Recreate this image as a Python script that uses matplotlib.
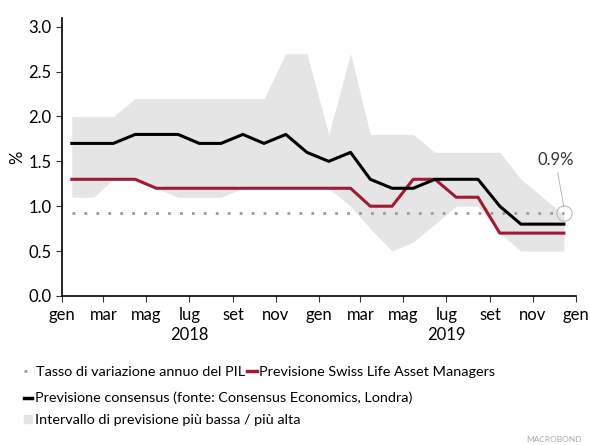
import datetime
import numpy as np
import matplotlib
matplotlib.use("Agg")
import matplotlib.pyplot as plt
from matplotlib.lines import Line2D
from matplotlib.patches import Patch

# monthly values, jan 2018 .. dec 2019
months = [datetime.date(2018 + i // 12, i % 12 + 1, 15) for i in range(24)]
consensus = [1.7, 1.7, 1.7, 1.8, 1.8, 1.8, 1.7, 1.7, 1.8, 1.7, 1.8, 1.6,
             1.5, 1.6, 1.3, 1.2, 1.2, 1.3, 1.3, 1.3, 1.0, 0.8, 0.8, 0.8]
swisslife = [1.3, 1.3, 1.3, 1.3, 1.2, 1.2, 1.2, 1.2, 1.2, 1.2, 1.2, 1.2,
             1.2, 1.2, 1.0, 1.0, 1.3, 1.3, 1.1, 1.1, 0.7, 0.7, 0.7, 0.7]
range_high = [2.0, 2.0, 2.0, 2.2, 2.2, 2.2, 2.2, 2.2, 2.2, 2.2, 2.7, 2.7,
              1.8, 2.7, 1.8, 1.8, 1.8, 1.6, 1.6, 1.6, 1.6, 1.3, 1.1, 0.9]
range_low = [1.1, 1.1, 1.3, 1.3, 1.2, 1.1, 1.1, 1.1, 1.2, 1.2, 1.2, 1.2,
             1.2, 1.0, 0.75, 0.5, 0.6, 0.8, 1.0, 1.0, 0.7, 0.5, 0.5, 0.5]
gdp = [0.92] * 24
gdp_label = "0.9%"

tick_labels = ["gen", "mar", "mag", "lug", "set", "nov"] * 2 + ["gen"]
years = ["2018", "2019"]

red = "#9e1b32"
band = "#e5e5e5"
dots = "#9a9a9a"

plt.rcParams["font.family"] = ["Lato", "DejaVu Sans"]

fig = plt.figure(figsize=(5.9, 4.45), dpi=100)
ax = fig.add_axes([0.105, 0.335, 0.871, 0.625])

ax.fill_between(months, range_low, range_high, color=band, lw=0)
ax.plot(months, gdp, color=dots, lw=2, linestyle=(0, (1, 3.3)), dash_capstyle="butt")
ax.plot(months, swisslife, color=red, lw=2.2)
ax.plot(months, consensus, color="black", lw=2.2)

# end marker + label
ax.plot(months[-1], gdp[-1], "o", ms=11, mfc="none", mec="#bbbbbb", mew=0.8)
ax.annotate(gdp_label, xy=(months[-1], gdp[-1] + 0.07), xytext=(-6, 28),
            textcoords="offset points", ha="center", va="bottom", fontsize=12,
            color="#333333",
            arrowprops=dict(arrowstyle="-", color="#aaaaaa", lw=0.6, shrinkA=1, shrinkB=0))

ticks = [datetime.date(2018 + m // 12, m % 12 + 1, 1) for m in range(0, 25, 2)]
ax.set_xticks(ticks)
ax.set_xticklabels(tick_labels)
ax.set_xlim(datetime.date(2018, 1, 1), datetime.date(2020, 1, 1))
ax.set_ylim(0, 3.1)
ax.set_yticks(np.arange(0, 3.01, 0.5))
ax.yaxis.set_major_formatter(plt.FormatStrFormatter("%.1f"))
ax.set_ylabel("%", fontsize=12, labelpad=2)

for s in ["top", "right"]:
    ax.spines[s].set_visible(False)
for s in ["left", "bottom"]:
    ax.spines[s].set_linewidth(1.2)
ax.tick_params(axis="both", labelsize=12, length=4, width=0.8, color="#333333")
ax.tick_params(axis="x", pad=4)

for i, y in enumerate(years):
    ax.text(datetime.date(2018 + i, 7, 1), -0.14, y, transform=ax.get_xaxis_transform(),
            ha="center", va="center", fontsize=12)

h_gdp = Line2D([], [], color=dots, lw=2, linestyle=(0, (1, 2.5)))
h_sl = Line2D([], [], color=red, lw=2.5)
h_cons = Line2D([], [], color="black", lw=2.5)
h_band = Patch(color=band)

fig.legend([h_gdp, h_sl], ["Tasso di variazione annuo del PIL",
                           "Previsione Swiss Life Asset Managers"],
           ncol=2, loc="upper left", bbox_to_anchor=(0.04, 0.178),
           frameon=False, fontsize=10.4, handlelength=0.7, handletextpad=0.15,
           columnspacing=0.15, borderaxespad=0, borderpad=0)
fig.legend([h_cons, h_band], ["Previsione consensus (fonte: Consensus Economics, Londra)",
                              "Intervallo di previsione più bassa / più alta"],
           ncol=1, loc="upper left", bbox_to_anchor=(0.04, 0.12),
           frameon=False, fontsize=10.4, handlelength=0.6, handleheight=0.5,
           handletextpad=0.2, labelspacing=0.7, borderaxespad=0, borderpad=0)

fig.text(0.985, 0.005, "MACROBOND", fontsize=6, color="#aaaaaa", ha="right", va="bottom")

fig.savefig("out.png", dpi=100)
